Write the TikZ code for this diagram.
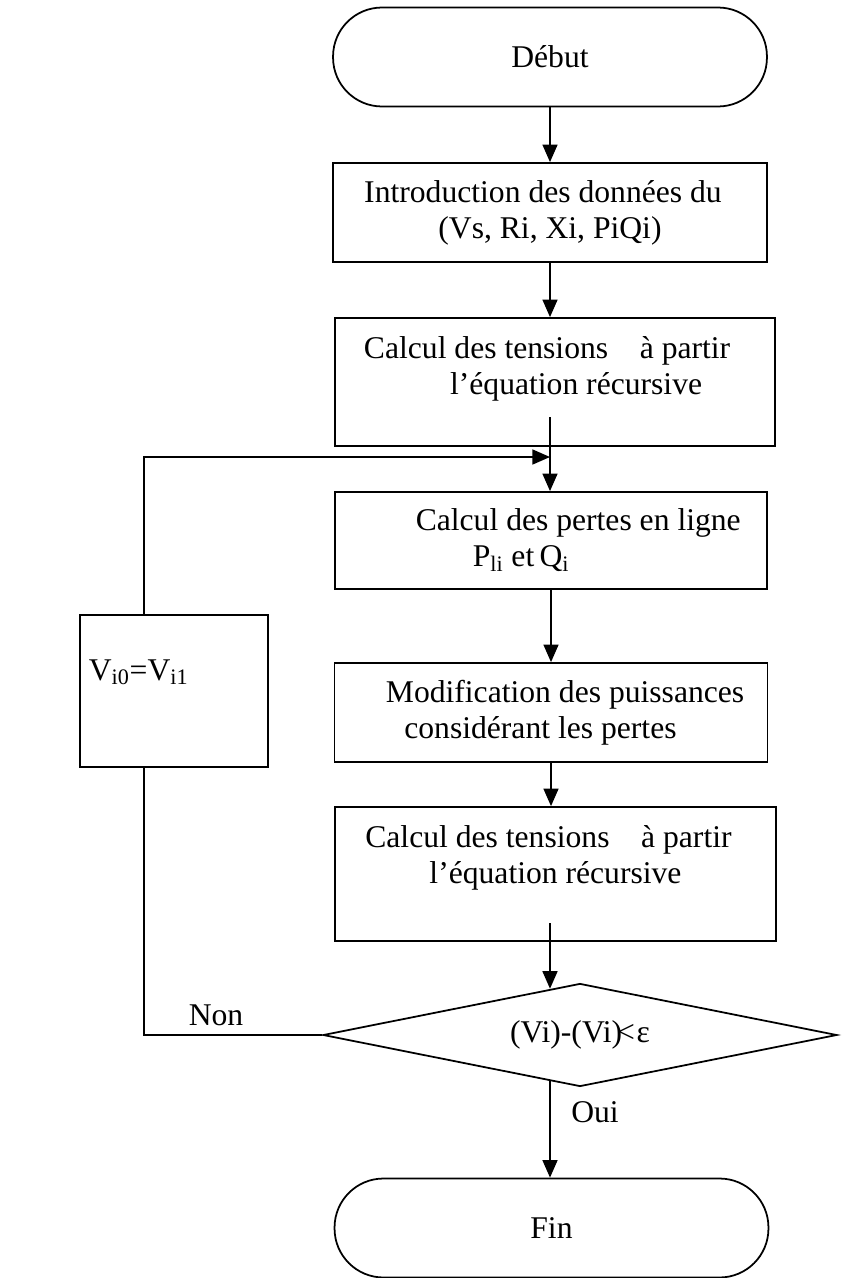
\documentclass[tikz,border=0pt]{standalone}
\usepackage{fontspec}
\setmainfont{Liberation Serif}
\usetikzlibrary{arrows.meta, shapes.geometric}

\begin{document}
\begin{tikzpicture}[x=0.02cm, y=-0.02cm, font=\fontsize{18pt}{20.5pt}\selectfont,
    line width=1pt, >={Triangle[length=10pt, width=8.5pt]},
    box/.style={draw, align=center, inner sep=0pt},
    term/.style={draw, rounded corners=0.98cm, minimum width=8.68cm, minimum height=1.98cm},
    decision/.style={draw, diamond, aspect=5, inner sep=0pt, minimum width=10.28cm, minimum height=2.06cm}]
  \useasboundingbox (0,0) rectangle (847,1278);
  % main column
  \node[term] (debut) at (550,57) {Début};
  \node[box, minimum width=8.68cm, minimum height=1.98cm] (box1) at (550,212.5)
    {Introduction des données du\hspace*{8pt}\\(Vs, Ri, Xi, PiQi)};
  \node[box, minimum width=8.8cm, minimum height=2.56cm] (box2) at (555,382)
    {Calcul des tensions\quad à partir\hspace*{9pt}\\\hspace*{24pt}l’équation récursive\\[-2pt]\mbox{}};
  \node[box, minimum width=8.64cm, minimum height=1.94cm] (box3) at (551,540.5)
    {\hspace*{31pt}Calcul des pertes en ligne\\P\textsubscript{li} et\,Q\textsubscript{i}\hspace*{34pt}};
  \node[box, minimum width=8.66cm, minimum height=1.98cm] (box4) at (551,712.5)
    {\hspace*{16pt}Modification des puissances\\considérant les pertes\hspace*{12pt}};
  \node[box, minimum width=8.82cm, minimum height=2.68cm] (box5) at (555.5,874)
    {Calcul des tensions\quad à partir\hspace*{8pt}\\l’équation récursive\hspace*{12pt}\\[2pt]\mbox{}};
  \node[decision] (test) at (580,1035) {(Vi)-(Vi)\kern-3pt<\kern1pt ε};
  \node[term] (fin) at (551.5,1228) {Fin};
  % loop box
  \node[draw, align=left, inner xsep=5pt, inner ysep=0pt, text width=3.76cm-10pt,
    minimum height=3.04cm] (maj) at (174,691)
    {V\textsubscript{i0}=V\textsubscript{i1}\\[3.5pt]\mbox{}};
  \coordinate (coin) at (144,457);
  \coordinate (t2) at (550,417);
  \coordinate (t5) at (550,923);
  % connectors
  \draw[->] (debut.south) -- (box1.south |- debut.south) -- (box1.south |- box1.north);
  \draw[->] (box1.south) -- (box1.south |- box2.north);
  \draw[->] (t2) -- (t2 |- box3.north);
  \draw[->] (box3.south) -- (box3.south |- box4.north);
  \draw[->] (box4.south) -- (box4.south |- box5.north);
  \draw[->] (t5) -- (t5 |- test.123);
  \draw[->] (test.238 -| t5) -- (t5 |- fin.north);
  \draw[->] (maj.north -| coin) -- (coin) -- (coin -| t2);
  \draw (test.west) -- (test.west -| coin) -- (maj.south -| coin);
  \node (non) at (216,1015) {Non};
  \node (oui) at (595,1112) {Oui};
\end{tikzpicture}
\end{document}
